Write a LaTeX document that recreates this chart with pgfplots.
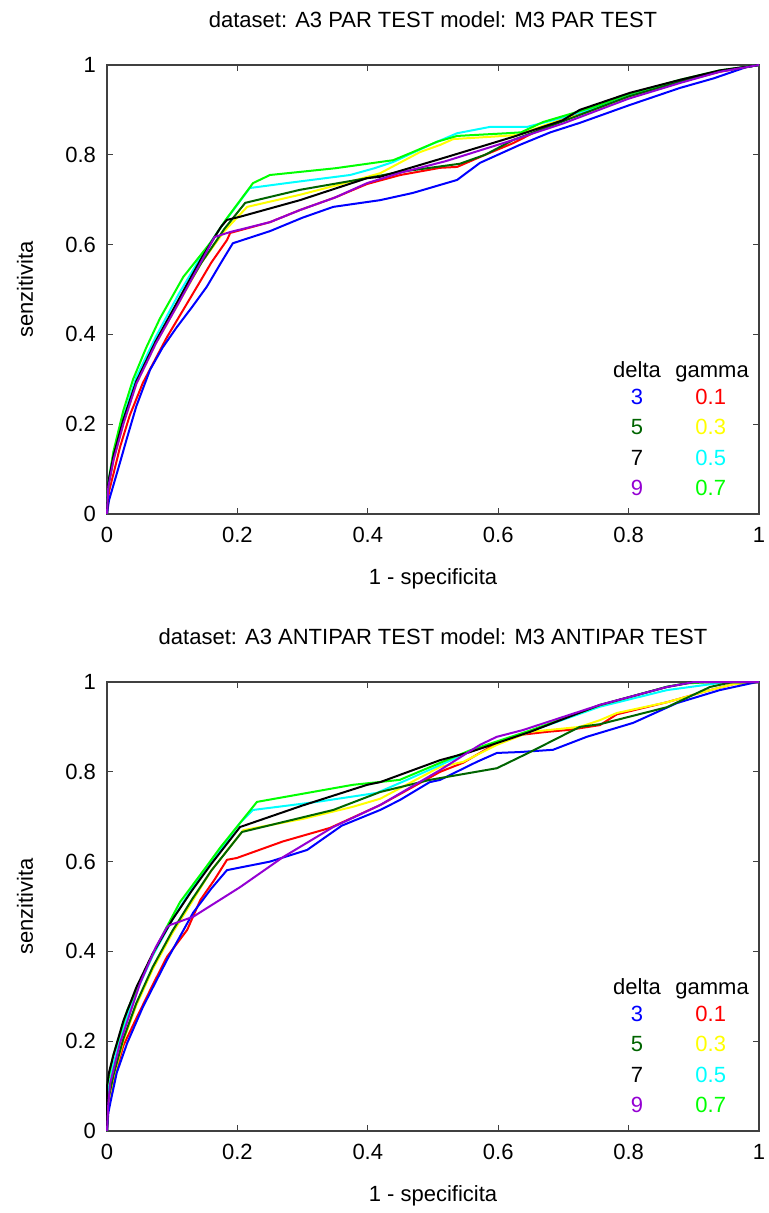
\documentclass[border=0pt]{standalone}
\usepackage{fontspec}
\setmainfont{Liberation Sans}
\usepackage{pgfplots}
\pgfplotsset{compat=1.18}

\definecolor{dgreen}{RGB}{0,100,0}
\definecolor{dviolet}{RGB}{148,0,211}
\definecolor{lgreen}{RGB}{0,255,0}
\definecolor{gcyan}{RGB}{0,255,255}
\definecolor{gyellow}{RGB}{255,255,0}
\definecolor{gblue}{RGB}{0,0,255}
\definecolor{gred}{RGB}{255,0,0}

\pgfplotsset{
  rocaxis/.style={
    scale only axis, width=326pt, height=224.5pt,
    xmin=0, xmax=1, ymin=0, ymax=1,
    xtick={0,0.2,0.4,0.6,0.8,1}, ytick={0,0.2,0.4,0.6,0.8,1},
    tick align=inside, major tick length=3pt,
    axis line style={black!75, line width=0.6pt},
    tick style={black!75, line width=0.6pt},
    /pgf/number format/assume math mode=true,
    xticklabel style={yshift=-3pt},
    yticklabel style={xshift=-2pt},
    every axis title/.style={at={(axis description cs:0.5,1.0846)}, anchor=base},
    every axis x label/.style={at={(axis description cs:0.5,-0.158)}, anchor=base},
    every axis y label/.style={at={(axis description cs:-0.1135,0.5)}, rotate=90, anchor=base},
    xlabel={1 - specificita}, ylabel={senzitivita},
    clip=false,
    every axis plot/.append style={line width=1pt, line join=round},
  }
}

% colored text legend (delta / gamma)
\newcommand{\rocLegend}{%
  \node[anchor=base] at (rel axis cs:0.813,0.303) {delta};
  \node[anchor=base] at (rel axis cs:0.928,0.303) {gamma};
  \node[anchor=base, text=gblue]   at (rel axis cs:0.813,0.243) {3};
  \node[anchor=base, text=dgreen]  at (rel axis cs:0.813,0.176) {5};
  \node[anchor=base, text=black]   at (rel axis cs:0.813,0.109) {7};
  \node[anchor=base, text=dviolet] at (rel axis cs:0.813,0.042) {9};
  \node[anchor=base, text=gred]    at (rel axis cs:0.926,0.243) {0.1};
  \node[anchor=base, text=gyellow] at (rel axis cs:0.926,0.176) {0.3};
  \node[anchor=base, text=gcyan]   at (rel axis cs:0.926,0.109) {0.5};
  \node[anchor=base, text=lgreen]  at (rel axis cs:0.926,0.042) {0.7};
}

\begin{document}
\begin{tikzpicture}[font=\fontsize{11}{13}\selectfont]
\useasboundingbox (-53.5pt,-349.5pt) rectangle (331pt,257pt);

% ---------------- PAR ----------------
\begin{axis}[rocaxis, at={(0,0)}, anchor=south west,
  title={dataset: A3 PAR TEST model: M3 PAR TEST}]
% gamma 0.1
\addplot[gred] coordinates {(0,0) (0.003,0.05) (0.01,0.09) (0.02,0.149) (0.035,0.22) (0.055,0.292) (0.092,0.394) (0.115,0.45) (0.138,0.506) (0.16,0.56) (0.184,0.61) (0.189,0.626) (0.25,0.65) (0.296,0.677) (0.35,0.705) (0.399,0.735) (0.45,0.755) (0.511,0.771) (0.537,0.773) (0.58,0.80) (0.623,0.826) (0.684,0.871) (0.74,0.9) (0.80,0.93) (0.879,0.962) (0.94,0.985) (1,1)};
% gamma 0.3
\addplot[gyellow] coordinates {(0,0) (0.002,0.06) (0.01,0.12) (0.025,0.2) (0.045,0.29) (0.075,0.38) (0.11,0.47) (0.145,0.56) (0.18,0.63) (0.215,0.684) (0.296,0.711) (0.36,0.735) (0.419,0.759) (0.48,0.806) (0.511,0.822) (0.531,0.835) (0.587,0.84) (0.629,0.844) (0.68,0.87) (0.75,0.9) (0.80,0.93) (0.879,0.963) (0.94,0.986) (1,1)};
% gamma 0.5
\addplot[gcyan] coordinates {(0,0) (0.002,0.07) (0.01,0.135) (0.025,0.215) (0.045,0.305) (0.075,0.395) (0.11,0.49) (0.145,0.575) (0.18,0.65) (0.219,0.726) (0.276,0.737) (0.373,0.755) (0.41,0.77) (0.439,0.784) (0.47,0.805) (0.5,0.825) (0.537,0.848) (0.587,0.862) (0.644,0.862) (0.684,0.877) (0.75,0.905) (0.80,0.932) (0.879,0.965) (0.94,0.987) (1,1)};
% gamma 0.7
\addplot[lgreen] coordinates {(0,0) (0.002,0.07) (0.01,0.14) (0.025,0.23) (0.04,0.3) (0.06,0.37) (0.081,0.435) (0.117,0.528) (0.158,0.603) (0.184,0.659) (0.224,0.737) (0.25,0.755) (0.35,0.77) (0.419,0.784) (0.439,0.788) (0.469,0.806) (0.506,0.829) (0.537,0.842) (0.613,0.848) (0.635,0.85) (0.669,0.873) (0.75,0.908) (0.80,0.935) (0.879,0.967) (0.94,0.988) (1,1)};
% delta 3
\addplot[gblue] coordinates {(0,0) (0.003,0.03) (0.01,0.065) (0.02,0.115) (0.031,0.171) (0.045,0.24) (0.066,0.321) (0.085,0.37) (0.107,0.416) (0.13,0.46) (0.153,0.506) (0.175,0.56) (0.193,0.603) (0.25,0.63) (0.3,0.66) (0.347,0.684) (0.419,0.699) (0.469,0.715) (0.537,0.744) (0.572,0.782) (0.633,0.822) (0.68,0.85) (0.725,0.871) (0.80,0.91) (0.879,0.949) (0.93,0.97) (0.98,0.995) (1,1)};
% delta 5
\addplot[dgreen] coordinates {(0,0) (0.002,0.065) (0.01,0.125) (0.025,0.205) (0.045,0.295) (0.075,0.385) (0.11,0.475) (0.145,0.56) (0.18,0.635) (0.212,0.693) (0.296,0.722) (0.399,0.748) (0.45,0.762) (0.541,0.78) (0.58,0.80) (0.623,0.833) (0.70,0.875) (0.80,0.93) (0.879,0.963) (0.94,0.986) (1,1)};
% delta 7
\addplot[black] coordinates {(0,0) (0.002,0.07) (0.01,0.13) (0.025,0.21) (0.045,0.295) (0.075,0.385) (0.11,0.478) (0.145,0.57) (0.175,0.64) (0.184,0.655) (0.204,0.662) (0.296,0.699) (0.399,0.748) (0.419,0.751) (0.521,0.795) (0.623,0.84) (0.699,0.877) (0.725,0.9) (0.802,0.938) (0.879,0.967) (0.94,0.988) (1,1)};
% delta 9
\addplot[dviolet] coordinates {(0,0) (0.002,0.06) (0.01,0.12) (0.025,0.2) (0.045,0.29) (0.075,0.38) (0.11,0.47) (0.14,0.55) (0.165,0.617) (0.189,0.628) (0.25,0.65) (0.296,0.677) (0.35,0.705) (0.399,0.737) (0.45,0.76) (0.52,0.786) (0.623,0.833) (0.70,0.87) (0.80,0.925) (0.879,0.96) (0.94,0.985) (1,1)};
\rocLegend
\end{axis}

% ---------------- ANTIPAR ----------------
\begin{axis}[rocaxis, at={(0,-308.5pt)}, anchor=south west,
  title={dataset: A3 ANTIPAR TEST model: M3 ANTIPAR TEST}]
% gamma 0.1
\addplot[gred] coordinates {(0,0) (0.002,0.05) (0.009,0.107) (0.025,0.19) (0.046,0.254) (0.07,0.325) (0.092,0.388) (0.123,0.448) (0.143,0.514) (0.165,0.56) (0.184,0.604) (0.199,0.608) (0.27,0.645) (0.342,0.675) (0.419,0.726) (0.511,0.8) (0.546,0.82) (0.598,0.864) (0.633,0.882) (0.675,0.889) (0.706,0.893) (0.725,0.897) (0.756,0.904) (0.782,0.928) (0.859,0.955) (0.92,0.98) (0.96,0.995) (1,1)};
% gamma 0.3
\addplot[gyellow] coordinates {(0,0) (0.002,0.06) (0.01,0.12) (0.025,0.2) (0.045,0.28) (0.07,0.36) (0.1,0.44) (0.13,0.51) (0.16,0.58) (0.209,0.67) (0.3,0.695) (0.377,0.722) (0.419,0.74) (0.511,0.811) (0.546,0.822) (0.598,0.86) (0.649,0.889) (0.725,0.9) (0.756,0.915) (0.782,0.931) (0.859,0.955) (0.92,0.98) (0.96,0.995) (1,1)};
% gamma 0.5
\addplot[gcyan] coordinates {(0,0) (0.002,0.09) (0.01,0.15) (0.025,0.23) (0.045,0.31) (0.07,0.39) (0.1,0.47) (0.13,0.54) (0.16,0.6) (0.204,0.686) (0.224,0.715) (0.322,0.733) (0.414,0.753) (0.46,0.782) (0.511,0.815) (0.557,0.845) (0.649,0.89) (0.756,0.945) (0.859,0.982) (0.9,0.99) (0.95,1) (1,1)};
% gamma 0.7
\addplot[lgreen] coordinates {(0,0) (0,0.1) (0.009,0.165) (0.031,0.269) (0.066,0.381) (0.09,0.45) (0.112,0.51) (0.153,0.59) (0.173,0.63) (0.204,0.686) (0.23,0.733) (0.377,0.771) (0.449,0.782) (0.511,0.82) (0.557,0.848) (0.649,0.892) (0.756,0.948) (0.86,0.99) (0.89,0.997) (0.93,1) (1,1)};
% delta 3
\addplot[gblue] coordinates {(0,0) (0.002,0.04) (0.005,0.062) (0.015,0.13) (0.031,0.196) (0.055,0.276) (0.092,0.381) (0.132,0.486) (0.16,0.54) (0.184,0.581) (0.25,0.6) (0.307,0.626) (0.36,0.68) (0.419,0.715) (0.449,0.737) (0.495,0.777) (0.511,0.782) (0.567,0.822) (0.598,0.842) (0.633,0.844) (0.684,0.849) (0.736,0.878) (0.807,0.909) (0.874,0.953) (0.94,0.982) (0.997,1) (1,1)};
% delta 5
\addplot[dgreen] coordinates {(0,0) (0.002,0.07) (0.01,0.125) (0.025,0.205) (0.045,0.285) (0.07,0.365) (0.1,0.445) (0.13,0.515) (0.16,0.58) (0.207,0.666) (0.347,0.715) (0.419,0.755) (0.495,0.782) (0.598,0.808) (0.649,0.844) (0.725,0.9) (0.756,0.906) (0.859,0.944) (0.925,0.989) (0.96,1) (1,1)};
% delta 7
\addplot[black] coordinates {(0,0) (0,0.1) (0.003,0.13) (0.01,0.17) (0.025,0.245) (0.045,0.32) (0.07,0.395) (0.1,0.47) (0.13,0.535) (0.16,0.595) (0.204,0.677) (0.3,0.725) (0.399,0.771) (0.419,0.777) (0.511,0.826) (0.557,0.844) (0.649,0.889) (0.756,0.949) (0.859,0.989) (0.9,1) (1,1)};
% delta 9
\addplot[dviolet] coordinates {(0,0) (0.002,0.06) (0.005,0.107) (0.02,0.196) (0.051,0.33) (0.075,0.41) (0.092,0.454) (0.097,0.459) (0.132,0.477) (0.204,0.543) (0.27,0.61) (0.347,0.677) (0.419,0.726) (0.511,0.804) (0.572,0.86) (0.598,0.878) (0.638,0.893) (0.756,0.949) (0.859,0.989) (0.9,1) (1,1)};
\rocLegend
\end{axis}
\end{tikzpicture}
\end{document}
